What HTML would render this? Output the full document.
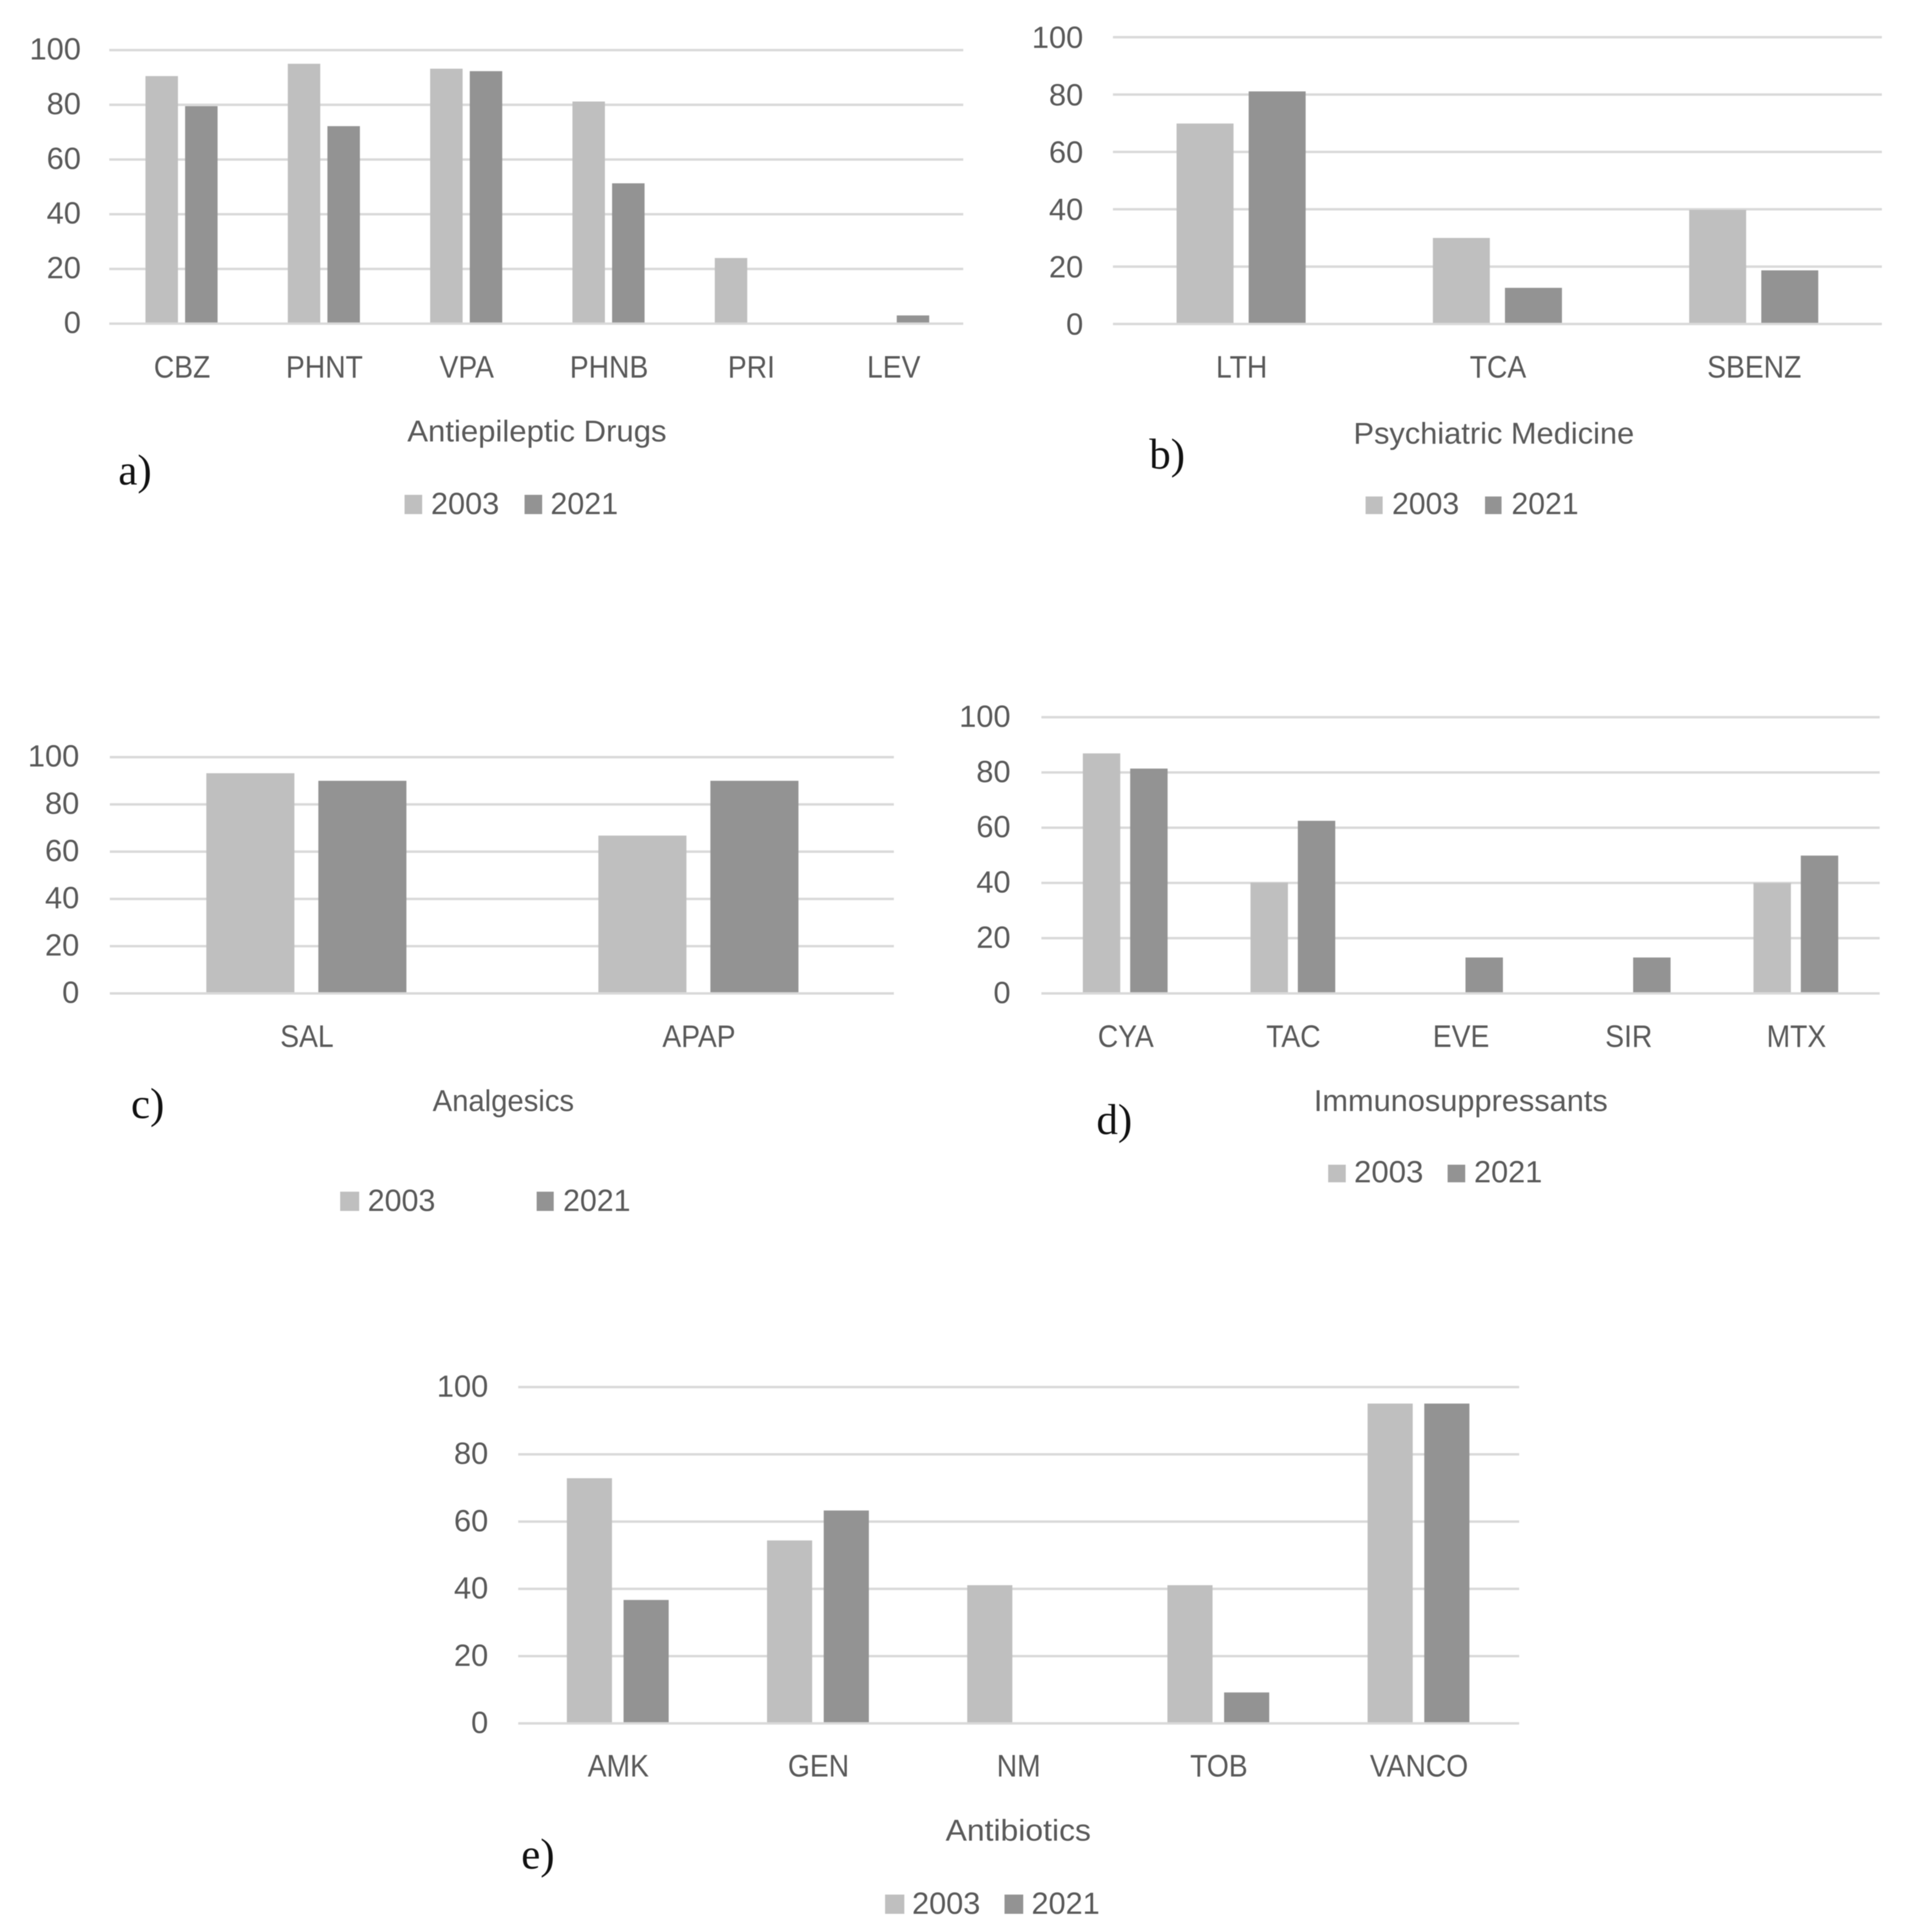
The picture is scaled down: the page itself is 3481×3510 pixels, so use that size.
<!DOCTYPE html>
<html lang="en">
<head>
<meta charset="utf-8">
<title>Drug charts 2003 vs 2021</title>
<style>
html,body{margin:0;padding:0;background:#fff;width:3481px;height:3510px;overflow:hidden}
svg{display:block;filter:blur(0.8px)}
text{font-family:"Liberation Sans",sans-serif;fill:#595959}
text.tag{font-family:"Liberation Serif",serif;fill:#111}
</style>
</head>
<body>
<svg id="figure" xmlns="http://www.w3.org/2000/svg" width="3481" height="3510" viewBox="0 0 3481 3510"></svg>
<script>
const yTicks = [0, 20, 40, 60, 80, 100];
const seriesNames = ["2003", "2021"];

const aCategories = ["CBZ", "PHNT", "VPA", "PHNB", "PRI", "LEV"];
const a2003 = [90.5, 95, 93.2, 81.2, 24, 0];
const a2021 = [79.5, 72.2, 92.3, 51.3, 0, 3];

const bCategories = ["LTH", "TCA", "SBENZ"];
const b2003 = [69.9, 30, 39.8];
const b2021 = [81.1, 12.6, 18.7];

const cCategories = ["SAL", "APAP"];
const c2003 = [93.2, 66.8];
const c2021 = [90, 90];

const dCategories = ["CYA", "TAC", "EVE", "SIR", "MTX"];
const d2003 = [86.9, 40.1, 0, 0, 40];
const d2021 = [81.4, 62.5, 13, 13, 49.9];

const eCategories = ["AMK", "GEN", "NM", "TOB", "VANCO"];
const e2003 = [72.9, 54.4, 41.1, 41.1, 95.1];
const e2021 = [36.7, 63.3, 0, 9.2, 95.1];

const SVGNS = "http://www.w3.org/2000/svg";
const root = document.getElementById("figure");
const COLORS = ["#BFBFBF", "#939393"];

function mk(parent, tag, attrs) {
  const el = document.createElementNS(SVGNS, tag);
  for (const k in attrs) el.setAttribute(k, attrs[k]);
  parent.appendChild(el);
  return el;
}

function drawChart(name, cats, s1, s2, L) {
  const g = mk(root, "g", {});
  
  

  const yScale = v => L.bottom + (L.top - L.bottom) * v / 100;
  const band = (L.right - L.left) / cats.length;
  const xScale = i => L.left + band * (i + 0.5) + L.shift;

  yTicks.forEach(t => {
    if (t !== 0) {
      const gl = mk(g, "rect", {x: L.left, y: yScale(t) - 2.2, width: L.right - L.left, height: 4.4, fill: "#D9D9D9"});
      
      
    }
    const lab = mk(g, "text", {x: L.tickRight, y: yScale(t) + L.tickDy, "text-anchor": "end", "font-size": 56});
    lab.textContent = String(t);
    
    
  });

  [s1, s2].forEach((vals, si) => {
    vals.forEach((v, i) => {
      if (v <= 0) return;
      const cx = xScale(i);
      const x = si === 0 ? cx - L.gap / 2 - L.barW : cx + L.gap / 2;
      const bar = mk(g, "rect", {x: x, y: yScale(v), width: L.barW, height: yScale(0) - yScale(v), fill: COLORS[si]});
      
      
    });
  });

  const axis = mk(g, "rect", {x: L.left, y: yScale(0) - 2.2, width: L.right - L.left, height: 4.4, fill: "#D9D9D9"});
  
  

  cats.forEach((c, i) => {
    const lab = mk(g, "text", {
      transform: "translate(" + (xScale(i) + 1) + "," + L.catY + ") scale(0.9,1)",
      "text-anchor": "middle", "font-size": 57
    });
    lab.textContent = c;
    
    
  });

  const title = mk(g, "text", {
    x: L.title[0], y: L.title[1], textLength: L.title[2], lengthAdjust: "spacingAndGlyphs", "font-size": 55
  });
  title.textContent = L.titleText;
  
  

  const tag = mk(g, "text", {x: L.tag[0], y: L.tag[1], "font-size": 78, "class": "tag"});
  tag.textContent = L.tagText;
  
  

  seriesNames.forEach((s, si) => {
    const k = L.legend[si];
    const sw = mk(g, "rect", {x: k[0], y: L.legendTop, width: k[1] - k[0], height: L.legendBase - L.legendTop, fill: COLORS[si]});
    
    
    const tx = mk(g, "text", {x: k[2], y: L.legendBase, "font-size": 56, textLength: k[3], lengthAdjust: "spacingAndGlyphs"});
    tx.textContent = s;
    
    
  });
}

drawChart("antiepileptic", aCategories, a2003, a2021, {
  left: 198.5, right: 1750, top: 91, bottom: 588, barW: 59, gap: 13, shift: 2, tickDy: 17,
  tickRight: 147, catY: 686, titleText: "Antiepileptic Drugs", title: [740, 802, 471],
  tagText: "a)", tag: [215, 880],
  legendTop: 899, legendBase: 934,
  legend: [[735, 767, 783, 124], [953, 985, 1000, 123]]
});

drawChart("psychiatric", bCategories, b2003, b2021, {
  left: 2022, right: 3419, top: 67.6, bottom: 588.6, barW: 103.5, gap: 27.5, shift: 0, tickDy: 19.5,
  tickRight: 1968, catY: 686, titleText: "Psychiatric Medicine", title: [2459, 806, 510],
  tagText: "b)", tag: [2088, 851],
  legendTop: 902, legendBase: 934,
  legend: [[2481, 2512, 2529, 122], [2698, 2728, 2746, 122]]
});

drawChart("analgesics", cCategories, c2003, c2021, {
  left: 199.5, right: 1624, top: 1375.6, bottom: 1804.8, barW: 160, gap: 43.5, shift: 1, tickDy: 17,
  tickRight: 144, catY: 1902, titleText: "Analgesics", title: [786, 2018.5, 257],
  tagText: "c)", tag: [238, 2031],
  legendTop: 2165, legendBase: 2200,
  legend: [[618, 652.6, 668, 123], [975, 1006, 1023, 122.5]]
});

drawChart("immunosuppressants", dCategories, d2003, d2021, {
  left: 1892, right: 3415, top: 1303, bottom: 1804.8, barW: 68, gap: 18, shift: 0, tickDy: 17.5,
  tickRight: 1836, catY: 1902, titleText: "Immunosuppressants", title: [2387, 2018.5, 534],
  tagText: "d)", tag: [1992, 2060],
  legendTop: 2116, legendBase: 2148,
  legend: [[2413, 2445, 2460, 126], [2630, 2662, 2678, 124]]
});

drawChart("antibiotics", eCategories, e2003, e2021, {
  left: 941.5, right: 2760, top: 2520, bottom: 3131, barW: 82, gap: 21, shift: -1, tickDy: 17.5,
  tickRight: 887, catY: 3227.5, titleText: "Antibiotics", title: [1718, 3344, 264],
  tagText: "e)", tag: [947, 3394.5],
  legendTop: 3442, legendBase: 3477,
  legend: [[1608, 1643, 1657, 124], [1825, 1859, 1874, 124]]
});
</script>
</body>
</html>
